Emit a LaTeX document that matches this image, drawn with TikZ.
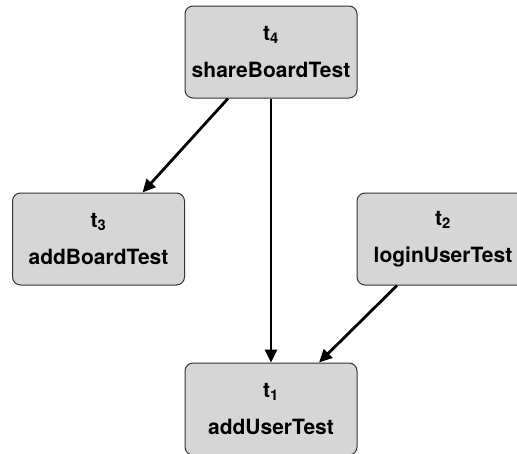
\documentclass[tikz,border=0pt]{standalone}
\usepackage{fontspec}
\setmainfont{TeX Gyre Heros}
\usetikzlibrary{arrows.meta}
\definecolor{boxfill}{HTML}{D6D6D6}
\definecolor{boxline}{HTML}{333333}
\tikzset{
  testbox/.style={draw=boxline, line width=1pt, fill=boxfill, rounded corners=8pt,
    minimum width=172pt, minimum height=92pt, inner sep=0pt, align=center,
    font=\fontsize{21}{37}\selectfont\bfseries},
  dep/.style={line width=2.8pt, black, -{Triangle[length=13pt,width=12pt]}}
}
\begin{document}
\begin{tikzpicture}[x=1pt,y=-1pt]
\useasboundingbox (0,0) rectangle (517,453);
\clip (0,0) rectangle (517,453);
\node[testbox] (t4) at (271,52) {t\textsubscript{4}\\shareBoardTest};
\node[testbox] (t3) at (98.5,239) {t\textsubscript{3}\\addBoardTest};
\node[testbox] (t2) at (443,239) {t\textsubscript{2}\\loginUserTest};
\node[testbox] (t1) at (271,409) {t\textsubscript{1}\\addUserTest};
\draw[dep] ([xshift=-43pt]t4.south) -- ([xshift=44pt]t3.north);
\draw[dep] (t4.south) -- (t1.north);
\draw[dep] ([xshift=-46pt]t2.south) -- ([xshift=48pt]t1.north);
\end{tikzpicture}
\end{document}
